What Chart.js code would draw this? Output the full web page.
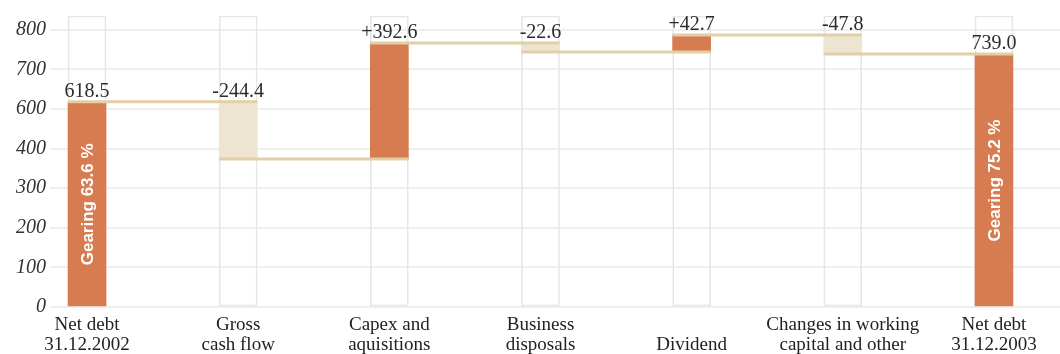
<!DOCTYPE html>
<html>
<head>
<meta charset="utf-8">
<title>Net debt development</title>
<script src="https://cdn.jsdelivr.net/npm/chart.js@4/dist/chart.umd.min.js"></script>
<style>
  html, body { margin: 0; padding: 0; background: #fff; overflow: hidden; }
  #wrap { position: relative; width: 1060px; height: 354px; }
</style>
</head>
<body>
<div id="wrap"><canvas id="myChart"></canvas></div>
<script>
/* globals Chart:false */

// Data
const categories = [
  ['Net debt', '31.12.2002'],
  ['Gross', 'cash flow'],
  ['Capex and', 'aquisitions'],
  ['Business', 'disposals'],
  ['', 'Dividend'],
  ['Changes in working', 'capital and other'],
  ['Net debt', '31.12.2003']
]
const openingDebt = 618.5
const movements = [-244.4, 392.6, -22.6, 42.7, -47.8]
const closingDebt = 739.0
const gearingLabels = ['Gearing 63.6 %', 'Gearing 75.2 %']
const yTicks = [0, 100, 200, 300, 400, 600, 700, 800]

;(() => {
  'use strict'

  // the original axis squeezes 400..600 into one grid step
  const AXIS_BREAK = [400, 600]
  const Y_MAX = 835
  const gap = AXIS_BREAK[1] - AXIS_BREAK[0]
  const squash = v => {
    if (v <= AXIS_BREAK[0]) return v
    if (v >= AXIS_BREAK[1]) return v - gap / 2
    return AXIS_BREAK[0] + (v - AXIS_BREAK[0]) / 2
  }
  const unsquash = s => {
    if (s <= AXIS_BREAK[0]) return s
    if (s >= AXIS_BREAK[0] + gap / 2) return s + gap / 2
    return AXIS_BREAK[0] + (s - AXIS_BREAK[0]) * 2
  }

  class BrokenScale extends Chart.LinearScale {
    buildTicks () {
      this.start = this.min
      this.end = this.max
      return yTicks.map(v => ({ value: v }))
    }

    getPixelForValue (value) {
      if (value === null || value === undefined) return NaN
      const lo = squash(this.min)
      const hi = squash(this.max)
      return this.getPixelForDecimal((squash(value) - lo) / (hi - lo))
    }

    getValueForPixel (pixel) {
      const lo = squash(this.min)
      const hi = squash(this.max)
      return unsquash(lo + this.getDecimalForPixel(pixel) * (hi - lo))
    }
  }
  BrokenScale.id = 'broken'
  BrokenScale.defaults = {}
  Chart.register(BrokenScale)

  // waterfall ranges
  const ranges = [[0, openingDebt]]
  const valueLabels = [openingDebt.toFixed(1)]
  let running = openingDebt
  movements.forEach(m => {
    const next = Math.round((running + m) * 10) / 10
    ranges.push([running, next])
    valueLabels.push((m > 0 ? '+' : '') + m.toFixed(1))
    running = next
  })
  ranges.push([0, closingDebt])
  valueLabels.push(closingDebt.toFixed(1))

  const ORANGE = '#d77c50'
  const BEIGE = '#eee4d2'
  const TAN = '#e2cfa6'
  const colors = ranges.map((r, i) => (i === 0 || i === ranges.length - 1 || r[1] > r[0]) ? ORANGE : BEIGE)

  const waterfallDecor = {
    id: 'waterfallDecor',
    afterDatasetsDraw (chart) {
      const { ctx, scales: { y } } = chart
      const bars = chart.getDatasetMeta(0).data
      ctx.save()

      // connector lines
      ctx.strokeStyle = TAN
      ctx.lineWidth = 3
      for (let i = 0; i < bars.length - 1; i++) {
        const level = ranges[i][1]
        const py = y.getPixelForValue(level)
        const a = bars[i]
        const b = bars[i + 1]
        ctx.beginPath()
        ctx.moveTo(a.x - a.width / 2, py)
        ctx.lineTo(b.x + b.width / 2, py)
        ctx.stroke()
      }

      // value labels
      ctx.fillStyle = '#2b2b2b'
      ctx.font = '20px "Liberation Serif", serif'
      ctx.textAlign = 'center'
      ctx.textBaseline = 'alphabetic'
      bars.forEach((bar, i) => {
        const top = y.getPixelForValue(Math.max(ranges[i][0], ranges[i][1]))
        ctx.fillText(valueLabels[i], bar.x, top - 5)
      })

      // gearing inside the total bars
      ctx.fillStyle = '#ffffff'
      ctx.font = 'bold 17px "Liberation Sans", Arial, sans-serif'
      ctx.textBaseline = 'middle'
      ;[0, bars.length - 1].forEach((idx, k) => {
        const bar = bars[idx]
        const cy = (y.getPixelForValue(ranges[idx][1]) + y.getPixelForValue(0)) / 2
        ctx.save()
        ctx.translate(bar.x, cy)
        ctx.rotate(-Math.PI / 2)
        ctx.fillText(gearingLabels[k], 0, 1)
        ctx.restore()
      })

      ctx.restore()
    }
  }

  const ctx = document.getElementById('myChart')
  // eslint-disable-next-line no-unused-vars
  const myChart = new Chart(ctx, {
    type: 'bar',
    data: {
      datasets: [{
        label: 'Change',
        data: ranges.map((r, i) => ({ x: i, y: r })),
        backgroundColor: colors,
        borderWidth: 0,
        barThickness: 38,
        grouped: false,
        order: 1
      }, {
        label: 'Frame',
        data: ranges.map((r, i) => ({ x: i, y: [0, Y_MAX] })),
        backgroundColor: 'transparent',
        borderColor: '#e6e6e6',
        borderWidth: 1,
        borderSkipped: false,
        barThickness: 38,
        grouped: false,
        order: 2
      }]
    },
    options: {
      responsive: true,
      maintainAspectRatio: false,
      animation: false,
      layout: { padding: { top: 12, left: 0, right: 0, bottom: 0 } },
      plugins: {
        legend: { display: false },
        tooltip: { enabled: false }
      },
      scales: {
        x: {
          type: 'linear',
          offset: false,
          min: -0.245,
          max: 6.437,
          grid: { display: false, drawTicks: false, offset: false },
          border: { display: false },
          afterFit: scale => { scale.height = 47 },
          ticks: {
            stepSize: 1,
            includeBounds: false,
            autoSkip: false,
            maxRotation: 0,
            padding: 8,
            color: '#222',
            font: { family: '"Liberation Serif", serif', size: 19, lineHeight: '20px' },
            callback: v => Number.isInteger(v) && categories[v] ? categories[v] : ''
          }
        },
        y: {
          type: 'broken',
          min: 0,
          max: Y_MAX,
          grid: { color: '#efefef', lineWidth: 2, drawTicks: false },
          border: { display: false },
          afterFit: scale => { scale.width = 50 },
          ticks: {
            padding: 4,
            color: '#333',
            font: { family: '"Liberation Serif", serif', size: 20, style: 'italic' },
            callback: v => String(v)
          }
        }
      }
    },
    plugins: [waterfallDecor]
  })
})()
</script>
</body>
</html>
